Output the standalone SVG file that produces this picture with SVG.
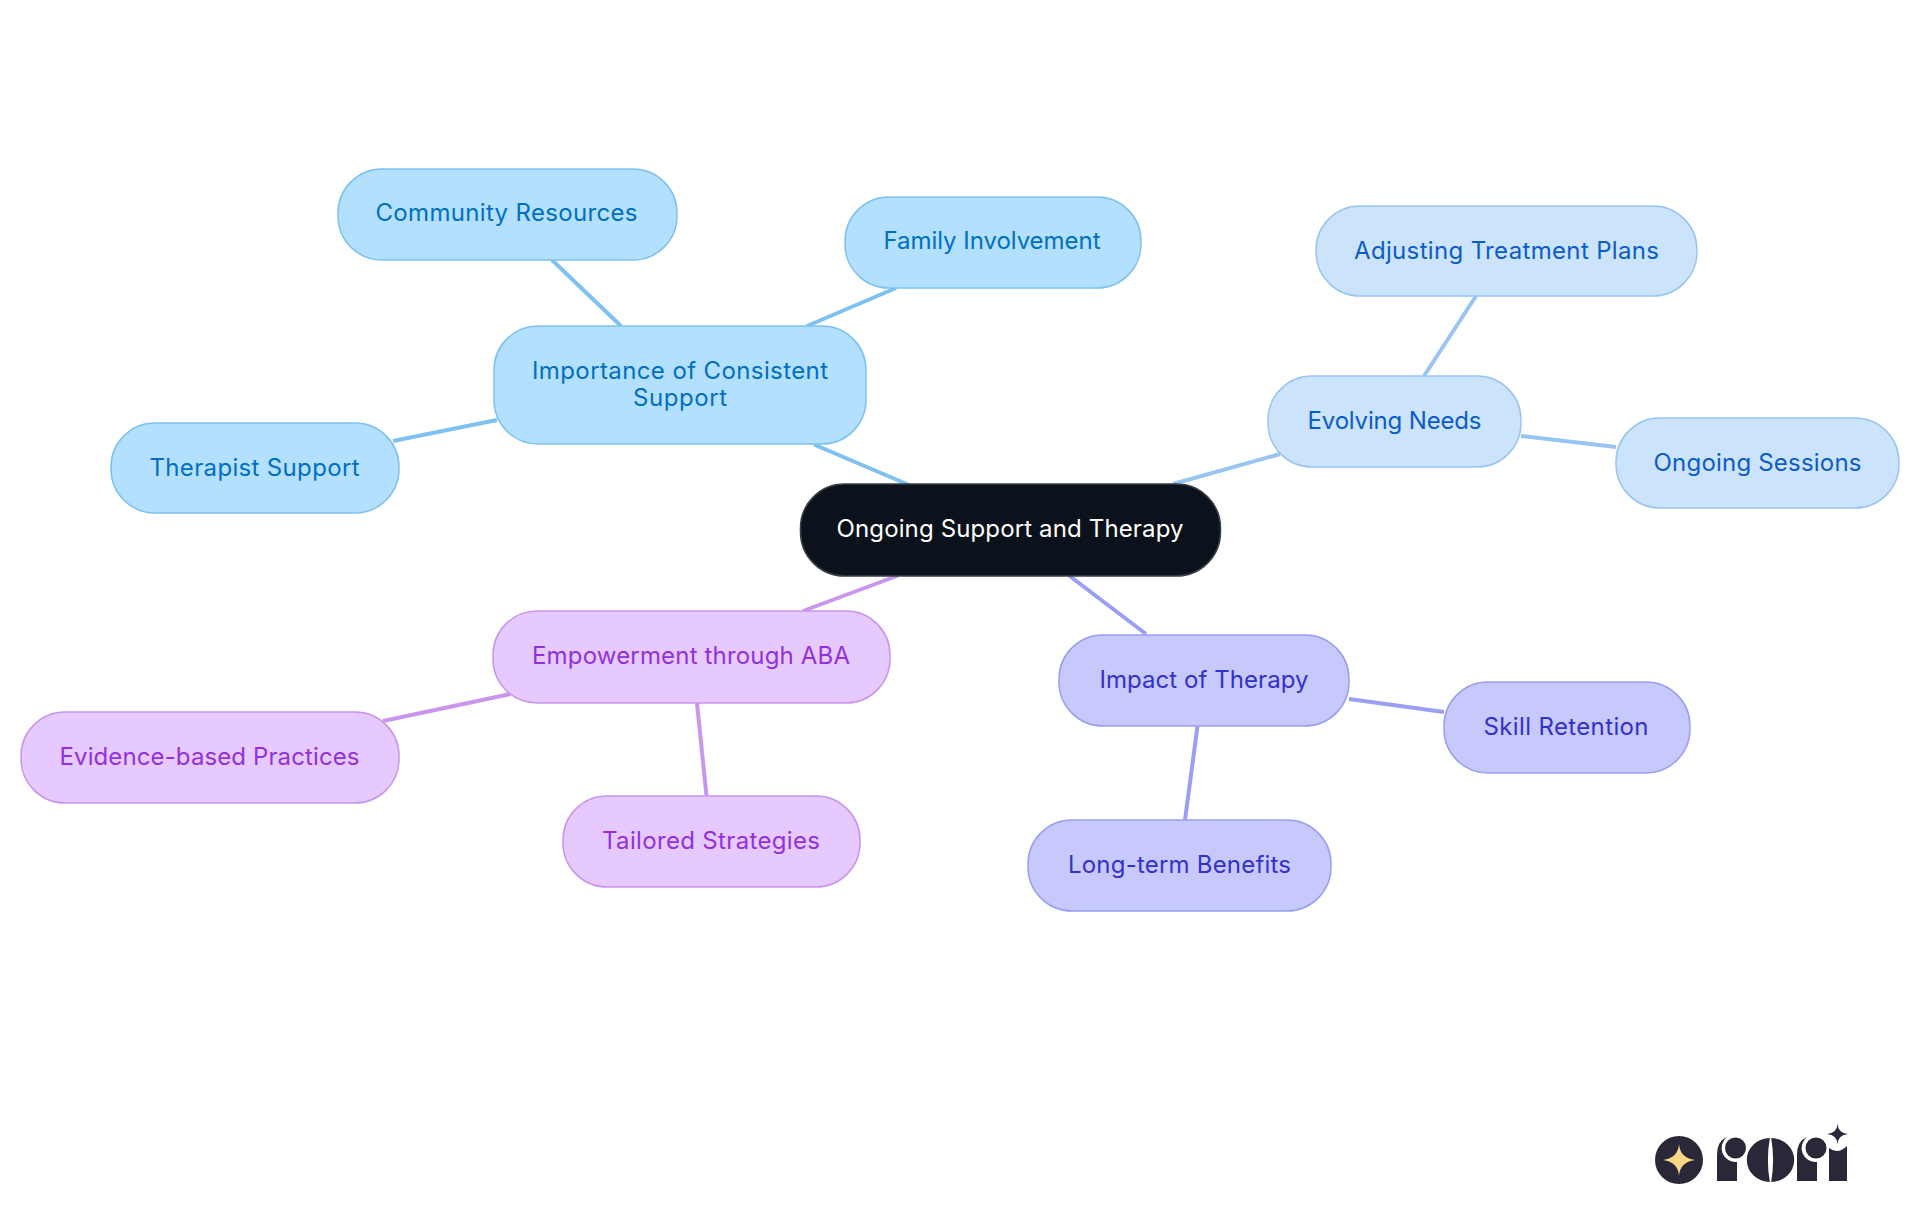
<svg xmlns="http://www.w3.org/2000/svg" width="1920" height="1215" viewBox="0 0 1920 1215">
<style>
text{font-family:"Inter","Noto Sans","Liberation Sans",sans-serif;font-size:24px;font-weight:380;text-anchor:middle}
.c{fill:none;stroke-width:4}
.n{stroke-width:1.5}
.a rect{fill:#B3E0FF;stroke:#7FC1F0}.a text{fill:#006FC2}
.b rect{fill:#CCE3FC;stroke:#99C5F3}.b text{fill:#0B5CC9}
.d rect{fill:#C7C9FD;stroke:#9B9FF3}.d text{fill:#3330CC}
.e rect{fill:#E6C9FF;stroke:#C996EE}.e text{fill:#9131DD}
</style>
<g id="connectors">
<path class="c" stroke="#7FC1F0" d="M814 444.500L909 485M552 260L621 326M896 288L807 326M393 441L497 420"/>
<path class="c" stroke="#99C5F3" d="M1173 484L1280 454M1476 296L1424 376M1521 436L1616 447"/>
<path class="c" stroke="#9B9FF3" d="M1069 575.500L1146 634M1349 699L1444 712M1197.500 726L1185 820"/>
<path class="c" stroke="#C996EE" d="M898 575.500L803 611M383 721L510.600 694M697 703L706.500 796"/>
</g>
<g id="root"><rect x="800.500" y="484" width="420" height="92" rx="44" fill="#0B121B" stroke="#3a3f45" stroke-width="1.500"/><text x="1010" y="537" fill="#fff" textLength="347">Ongoing Support and Therapy</text></g>
<g id="n1" class="a"><rect class="n" x="494" y="326" width="372" height="118" rx="44"/><text x="680" y="379" textLength="296">Importance of Consistent</text><text x="680" y="406" textLength="94">Support</text></g>
<g id="n2" class="a"><rect class="n" x="338" y="169" width="339" height="91" rx="44"/><text x="506.500" y="221" textLength="262">Community Resources</text></g>
<g id="n3" class="a"><rect class="n" x="845" y="197" width="296" height="91" rx="44"/><text x="992" y="249" textLength="217">Family Involvement</text></g>
<g id="n4" class="a"><rect class="n" x="111" y="423" width="288" height="90" rx="44"/><text x="254.500" y="476" textLength="210">Therapist Support</text></g>
<g id="n5" class="b"><rect class="n" x="1268" y="376" width="253" height="91" rx="44"/><text x="1394.500" y="429" textLength="174">Evolving Needs</text></g>
<g id="n6" class="b"><rect class="n" x="1316" y="206" width="381" height="90" rx="44"/><text x="1506.500" y="259" textLength="305">Adjusting Treatment Plans</text></g>
<g id="n7" class="b"><rect class="n" x="1616" y="418" width="283" height="90" rx="44"/><text x="1757.500" y="471" textLength="208">Ongoing Sessions</text></g>
<g id="n8" class="d"><rect class="n" x="1059" y="635" width="290" height="91" rx="44"/><text x="1204" y="688" textLength="209">Impact of Therapy</text></g>
<g id="n9" class="d"><rect class="n" x="1444" y="682" width="246" height="91" rx="44"/><text x="1566" y="735" textLength="165">Skill Retention</text></g>
<g id="n10" class="d"><rect class="n" x="1028" y="820" width="303" height="91" rx="44"/><text x="1179.500" y="873" textLength="223">Long-term Benefits</text></g>
<g id="n11" class="e"><rect class="n" x="493" y="611" width="397" height="92" rx="44"/><text x="691" y="664" textLength="318">Empowerment through ABA</text></g>
<g id="n12" class="e"><rect class="n" x="21" y="712" width="378" height="91" rx="44"/><text x="209.500" y="765" textLength="300">Evidence-based Practices</text></g>
<g id="n13" class="e"><rect class="n" x="563" y="796" width="297" height="91" rx="44"/><text x="711" y="849" textLength="218">Tailored Strategies</text></g>
<g id="logo" fill="#2A2838">
<circle cx="1679" cy="1160" r="24"/>
<path fill="#FBD78A" d="M1679 1144Q1680 1158 1695 1160Q1680 1162 1679 1176Q1678 1162 1663 1160Q1678 1158 1679 1144Z"/>
<path d="M1717 1181V1155Q1717 1141 1727 1137A14 14 0 0 0 1737 1162V1181Z"/>
<circle cx="1735.500" cy="1148" r="10.500"/>
<path d="M1769.800 1138A23 22 0 0 0 1769.800 1182Q1766 1160 1769.800 1138Z"/>
<path d="M1771.200 1138A23 22 0 0 1 1771.200 1182Q1775 1160 1771.200 1138Z"/>
<path d="M1797 1181V1155Q1797 1141 1807 1137A14 14 0 0 0 1817 1162V1181Z"/>
<circle cx="1816" cy="1148" r="10.500"/>
<path d="M1829 1181V1148Q1838 1155 1847 1146V1181Z"/>
<path d="M1837.500 1124Q1838 1133 1848 1134Q1838 1135 1837.500 1144Q1837 1135 1827 1134Q1837 1133 1837.500 1124Z"/>
</g>
</svg>
